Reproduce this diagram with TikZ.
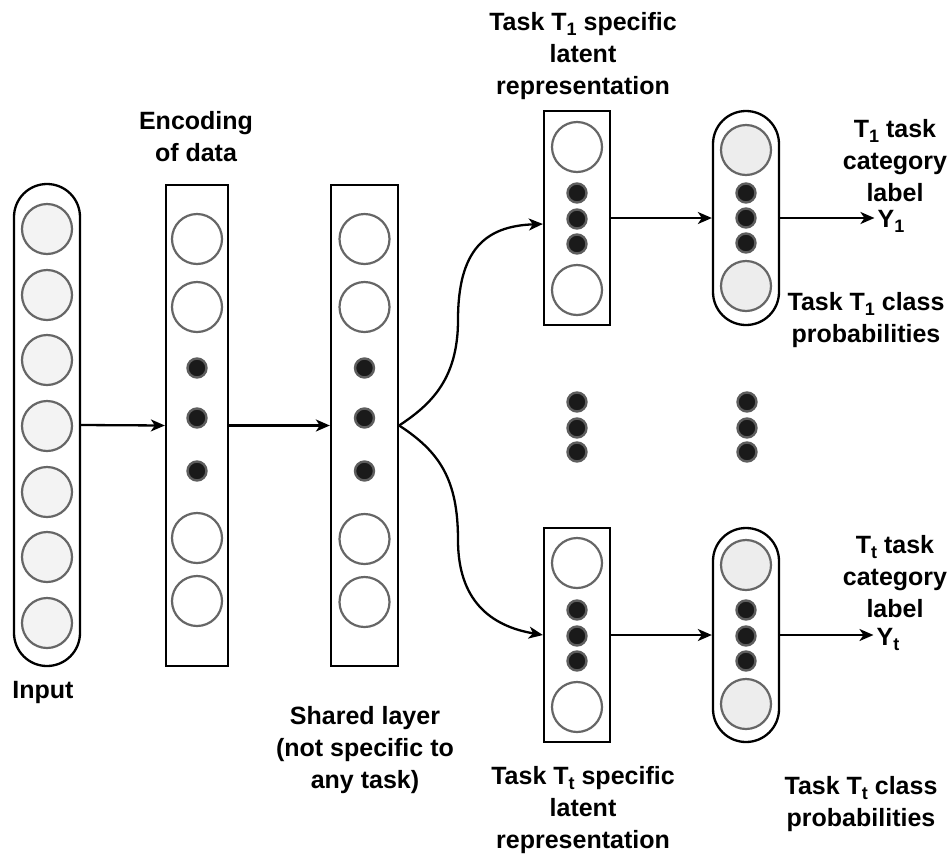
\documentclass[tikz,border=0pt]{standalone}
\usepackage{fontspec}
\setmainfont{Liberation Sans}
\usetikzlibrary{arrows.meta,calc}

\definecolor{ringgray}{HTML}{666666}
\definecolor{dotfill}{HTML}{1A1A1A}
\definecolor{dotrim}{HTML}{5E5E5E}
\definecolor{infill}{HTML}{F3F3F3}
\definecolor{outfill}{HTML}{EDEDED}

% lowered, smaller index (T_1, Y_t, ...)
\newcommand{\idx}[1]{\raisebox{-5pt}{\fontsize{18}{18}\selectfont #1}}

\begin{document}
\begin{tikzpicture}[x=1pt,y=-1pt,
  colbox/.style={draw=black, line width=2.3pt, fill=white, inner sep=0pt},
  pill/.style={colbox, rounded corners=33pt},
  neuron/.style={circle, draw=ringgray, line width=2.2pt, fill=white,
                 minimum size=50pt, inner sep=0pt},
  inneuron/.style={neuron, fill=infill},
  outneuron/.style={neuron, fill=outfill},
  blob/.style={circle, draw=dotrim, fill=dotfill, line width=2.4pt,
               minimum size=19pt, inner sep=0pt},
  arr/.style={-{Stealth[length=14pt,width=12pt,inset=4pt]}, line width=2.3pt},
  lbl/.style={font=\fontsize{25}{32}\selectfont\bfseries, align=center, inner sep=0pt}
]
\useasboundingbox (0,0) rectangle (952,857);

% ---- input layer ----
\node[pill, minimum width=66pt, minimum height=482pt] (inp) at (47,425) {};
\foreach \y [count=\i] in {229,295,360,426,492,557,623}
  \node[inneuron] (in\i) at (47,\y) {};
\node[lbl] (inlbl) at (43,692) {Input};

% ---- encoding layer ----
\node[colbox, minimum width=62pt, minimum height=481pt] (enc) at (197,425.5) {};
\foreach \y [count=\i] in {239,307,538,601}
  \node[neuron] (enc\i) at (197,\y) {};
\foreach \y [count=\i] in {368,418,471}
  \node[blob] (encd\i) at (197,\y) {};
\node[lbl] (enclbl) at (196,137) {Encoding\\of data};

% ---- shared layer ----
\node[colbox, minimum width=67pt, minimum height=481pt] (sh) at (364.5,425.5) {};
\foreach \y [count=\i] in {239,307,539,602}
  \node[neuron] (sh\i) at (364.5,\y) {};
\foreach \y [count=\i] in {368,418,471}
  \node[blob] (shd\i) at (364.5,\y) {};
\node[lbl] (shlbl) at (365,750) {Shared layer\\(not specific to\\any task)};

% ---- task T1 branch ----
\node[colbox, minimum width=66pt, minimum height=214pt] (l1) at (577,218) {};
\node[neuron] (l1a) at (577,147) {};
\node[neuron] (l1b) at (577,290) {};
\foreach \y [count=\i] in {193,219,244}
  \node[blob] (l1d\i) at (577,\y) {};
\node[lbl] (l1lbl) at (583,56) {Task T\idx{1} specific\\latent\\representation};

\node[pill, minimum width=66pt, minimum height=214pt] (o1) at (746,218) {};
\node[outneuron] (o1a) at (746,150) {};
\node[outneuron] (o1b) at (746,286) {};
\foreach \y [count=\i] in {193,218,243}
  \node[blob] (o1d\i) at (746,\y) {};
\node[lbl] (o1top) at (895,161) {T\idx{1} task\\category\\label};
\node[lbl, inner sep=3pt] (y1) at (891,221) {Y\idx{1}};
\node[lbl] (o1lbl) at (866,320) {Task T\idx{1} class\\probabilities};

% ---- elided branches ----
\foreach \y [count=\i] in {402,428,452} {
  \node[blob] (ma\i) at (577,\y) {};
  \node[blob] (mb\i) at (747,\y) {};
}

% ---- task Tt branch ----
\node[colbox, minimum width=66pt, minimum height=214pt] (lt) at (577,635) {};
\node[neuron] (lta) at (577,563) {};
\node[neuron] (ltb) at (577,707) {};
\foreach \y [count=\i] in {610,636,661}
  \node[blob] (ltd\i) at (577,\y) {};
\node[lbl] (ltlbl) at (583,810) {Task T\idx{t} specific\\latent\\representation};

\node[pill, minimum width=66pt, minimum height=214pt] (ot) at (746,635) {};
\node[outneuron] (ota) at (746,565) {};
\node[outneuron] (otb) at (746,704) {};
\foreach \y [count=\i] in {610,636,661}
  \node[blob] (otd\i) at (746,\y) {};
\node[lbl] (ottop) at (895,577) {T\idx{t} task\\category\\label};
\node[lbl, inner sep=3pt] (yt) at (888,639) {Y\idx{t}};
\node[lbl] (otlbl) at (861,804) {Task T\idx{t} class\\probabilities};

% ---- connectors ----
\draw[arr] (inp.east) -- (enc.west);
\draw[arr] (enc.east) -- (sh.west);
\draw[arr] (sh.east) .. controls (430,405) and (458,380) .. (458,320)
                     .. controls (458,250) and (485,226) .. ($(l1.west)+(0,6)$);
\draw[arr] (sh.east) .. controls (440,452) and (458,480) .. (458,540)
                     .. controls (458,600) and (490,626) .. (lt.west);
\draw[arr] (l1.east) -- (o1.west);
\draw[arr] (lt.east) -- (ot.west);
\draw[arr] (o1.east) -- (o1.east -| y1.west);
\draw[arr] (ot.east) -- (ot.east -| yt.west);
\end{tikzpicture}
\end{document}
